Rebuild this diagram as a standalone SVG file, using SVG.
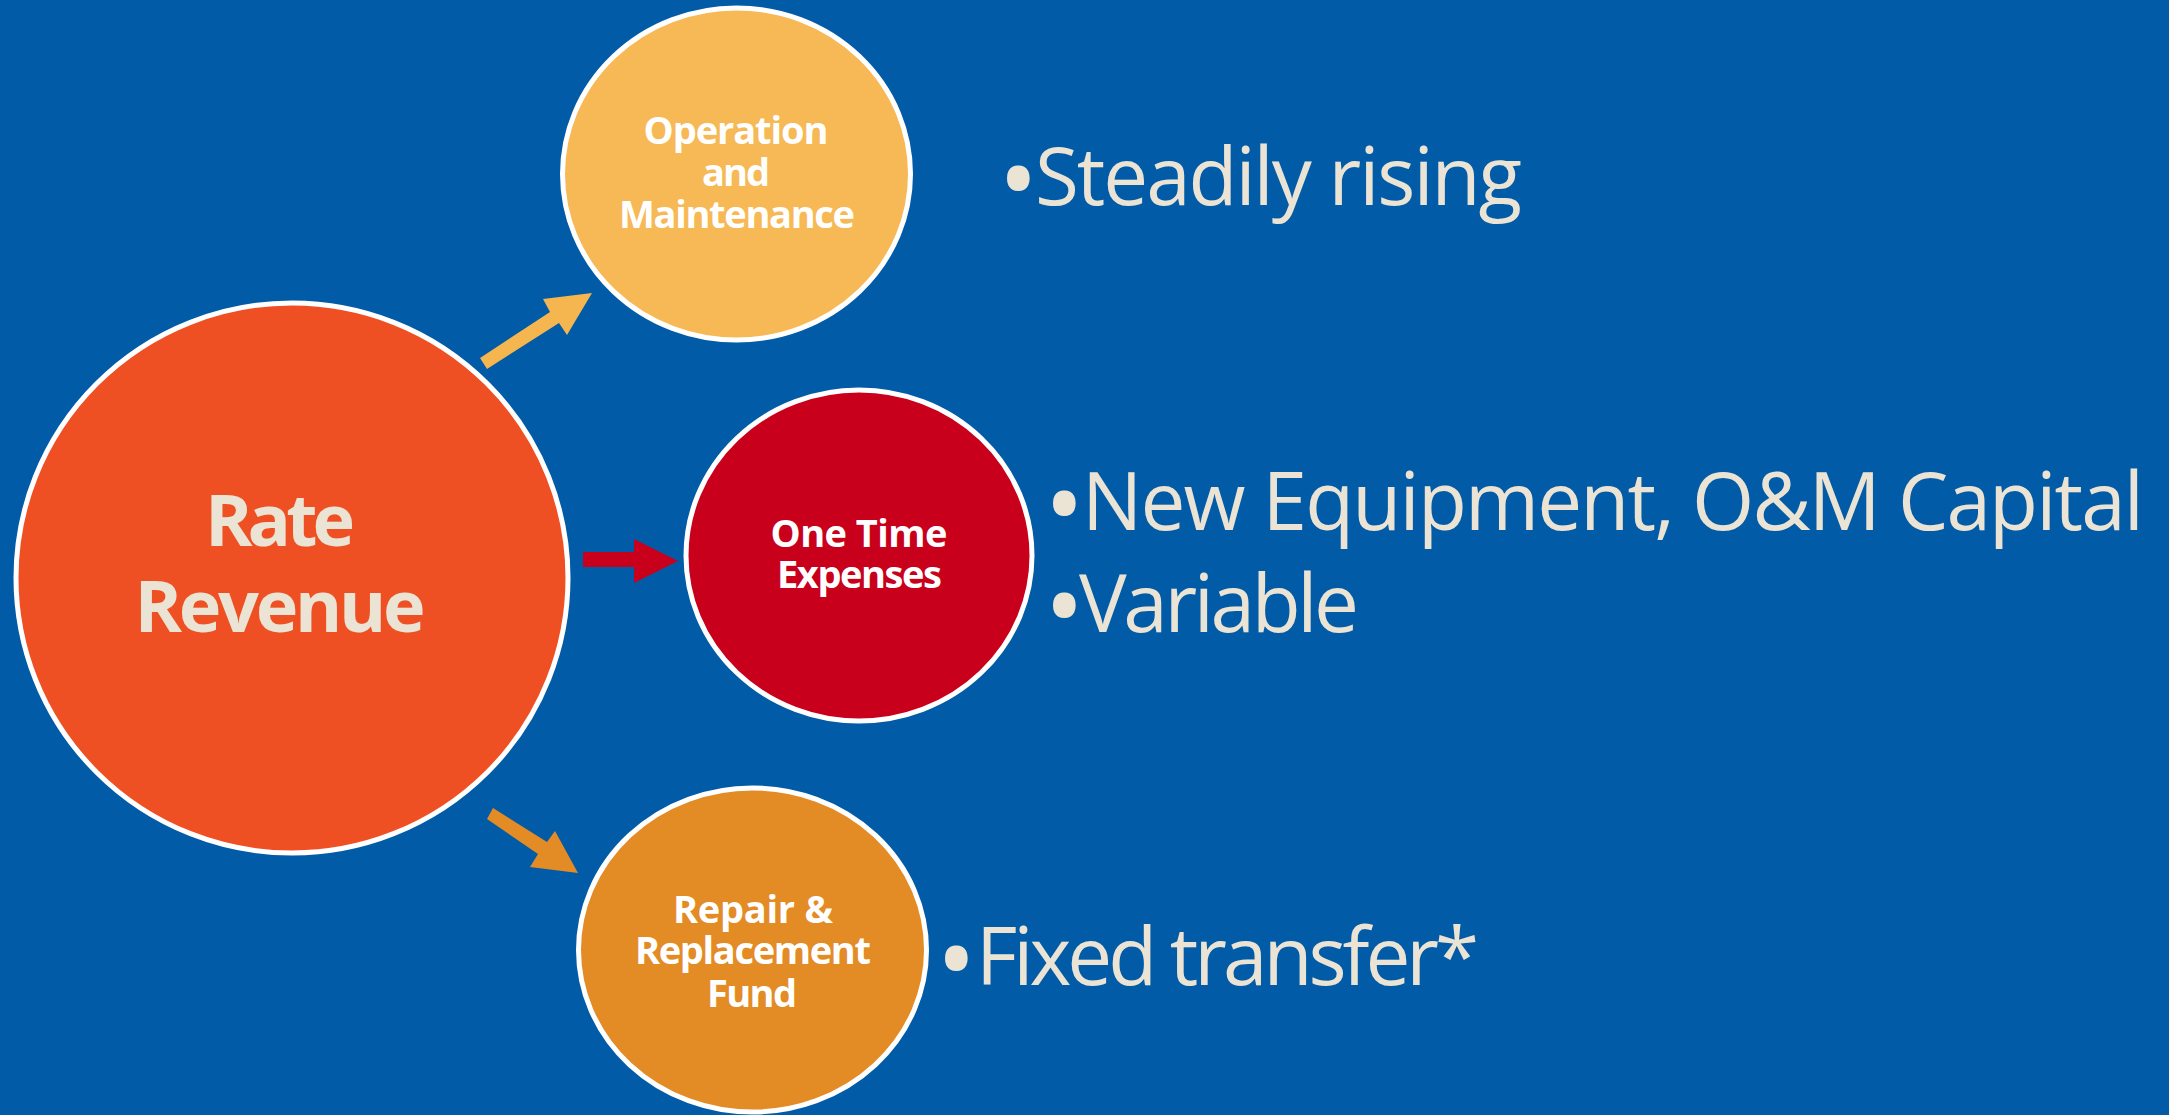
<svg xmlns="http://www.w3.org/2000/svg" width="2169" height="1115" viewBox="0 0 2169 1115">
<style>
.node{stroke:#FFFFFF;stroke-width:5}
.lbl{font-family:"Open Sans","Noto Sans","Liberation Sans",sans-serif;font-weight:700;fill:#FFFFFF;text-anchor:middle;font-size:38px}
.big{fill:#EBE4D4;font-size:72px}
.bul{font-family:"Open Sans","Noto Sans","Liberation Sans",sans-serif;fill:#EBE4D4;font-size:80px}
.dot{font-size:108px}
</style>
<rect x="0" y="0" width="2169" height="1115" fill="#015BA7"/>
<g id="connectors">
<polygon points="480,358 550,312 543,299 592,293 567,335 559,323 487,369" fill="#F5B54F"/>
<polygon points="583,552 634,552 634,539 678,561 634,583 634,567 583,567" fill="#C9001C"/>
<polygon points="493,808 547,842 555,831 578,873 530,867 538,854 487,819" fill="#E38B25"/>
</g>
<g id="rate-revenue">
<ellipse class="node" cx="292" cy="578" rx="276" ry="275" fill="#EF5023"/>
<text class="lbl big" x="280" y="546" textLength="150">Rate</text>
<text class="lbl big" x="280" y="632" textLength="291">Revenue</text>
</g>
<g id="operation-maintenance">
<ellipse class="node" cx="736.5" cy="174" rx="174" ry="166" fill="#F6B955"/>
<text class="lbl" x="736" y="144" textLength="185">Operation</text>
<text class="lbl" x="736" y="186" textLength="68">and</text>
<text class="lbl" x="737" y="228" textLength="236">Maintenance</text>
</g>
<g id="one-time-expenses">
<ellipse class="node" cx="859" cy="555.5" rx="173" ry="165.5" fill="#C9001C"/>
<text class="lbl" x="859" y="547" textLength="177">One Time</text>
<text class="lbl" x="859.5" y="588" textLength="165">Expenses</text>
</g>
<g id="repair-replacement">
<ellipse class="node" cx="752.5" cy="950" rx="174" ry="162" fill="#E38B25"/>
<text class="lbl" x="753" y="923" textLength="160">Repair &amp;</text>
<text class="lbl" x="753" y="964" textLength="236">Replacement</text>
<text class="lbl" x="752" y="1007" textLength="90">Fund</text>
</g>
<g id="bullets">
<text class="bul" y="204.6"><tspan class="dot" x="998" dy="13">•</tspan><tspan x="1035" dy="-13" textLength="487">Steadily rising</tspan></text>
<text class="bul" y="530"><tspan class="dot" x="1044" dy="13">•</tspan><tspan x="1082" dy="-13" textLength="1062">New Equipment, O&amp;M Capital</tspan></text>
<text class="bul" y="632"><tspan class="dot" x="1044" dy="13">•</tspan><tspan x="1079" dy="-13" textLength="280">Variable</tspan></text>
<text class="bul" y="984.6"><tspan class="dot" x="936" dy="13">•</tspan><tspan x="976" dy="-13" textLength="503">Fixed transfer*</tspan></text>
</g>
</svg>
